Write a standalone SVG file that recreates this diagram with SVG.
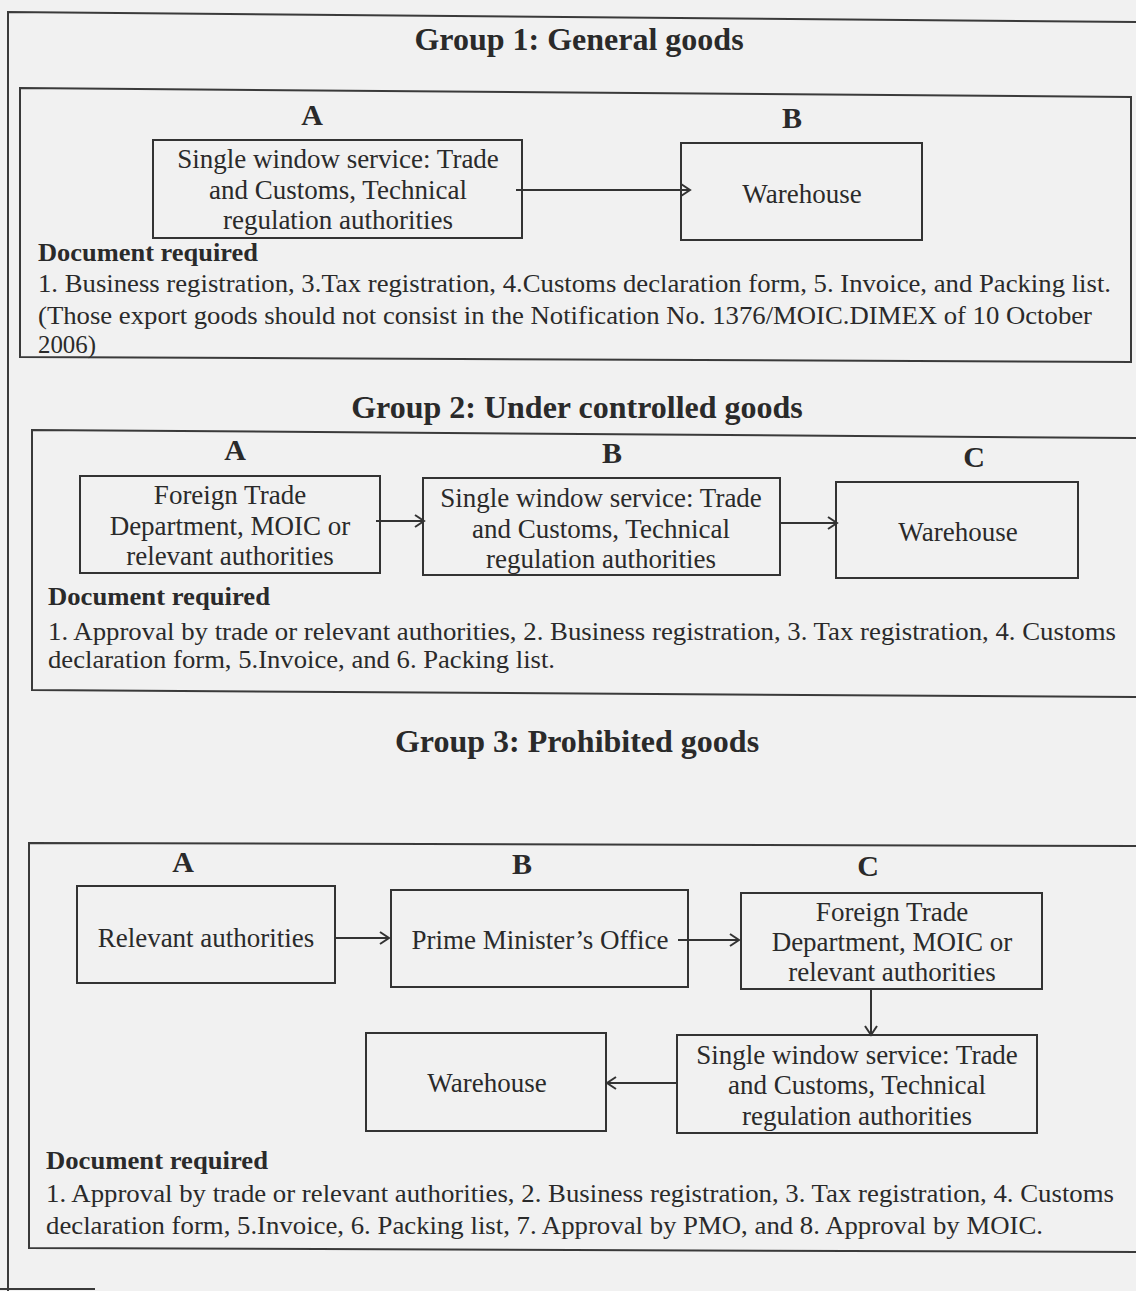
<svg xmlns="http://www.w3.org/2000/svg" width="1136" height="1291" viewBox="0 0 1136 1291">
<defs>
<marker id="ah" markerWidth="14" markerHeight="14" refX="12" refY="7" orient="auto" markerUnits="userSpaceOnUse">
<path d="M3,1 L12,7 L3,13" fill="none" stroke="#333" stroke-width="2"/>
</marker>
<style>
.frame{fill:none;stroke:#3a3a3a;stroke-width:2}
.box{fill:none;stroke:#333;stroke-width:2}
.t{font-family:"Liberation Serif","Times New Roman",serif;font-size:26px;fill:#2a2a2a}
.s{font-size:25px}
.bx{font-family:"Liberation Serif","Times New Roman",serif;font-size:27px;fill:#2a2a2a;text-anchor:middle}
.title{font-family:"Liberation Serif","Times New Roman",serif;font-size:32px;font-weight:bold;fill:#2a2a2a;text-anchor:middle}
.lab{font-family:"Liberation Serif","Times New Roman",serif;font-size:30px;font-weight:bold;fill:#2a2a2a;text-anchor:middle}
.dr{font-family:"Liberation Serif","Times New Roman",serif;font-size:26px;font-weight:bold;fill:#2a2a2a}
.conn{fill:none;stroke:#333;stroke-width:2;marker-end:url(#ah)}
</style>
</defs>
<rect width="1136" height="1291" fill="#f1f1f1"/>
<polyline class="frame" points="8,1291 8,12 1136,22"/>
<line class="frame" x1="0" y1="1289" x2="95" y2="1289"/>

<g id="group1">
<text class="title" x="579" y="50">Group 1: General goods</text>
<polygon class="frame" points="20,88 1131,97 1131,362 20,357"/>
<text class="lab" x="312" y="125">A</text>
<text class="lab" x="792" y="128">B</text>
<text class="dr" x="38" y="261" textLength="220" lengthAdjust="spacingAndGlyphs">Document required</text>
<text class="t" x="38" y="292" textLength="1073" lengthAdjust="spacingAndGlyphs">1. Business registration, 3.Tax registration, 4.Customs declaration form, 5. Invoice, and Packing list.</text>
<text class="t s" x="38" y="324" textLength="1054" lengthAdjust="spacingAndGlyphs">(Those export goods should not consist in the Notification No. 1376/MOIC.DIMEX of 10 October</text>
<text class="t s" x="38" y="353" textLength="58" lengthAdjust="spacingAndGlyphs">2006)</text>
</g>
<g id="g1A">
<rect class="box" x="153" y="140" width="369" height="98"/>
<text class="bx" x="338" y="168">Single window service: Trade</text>
<text class="bx" x="338" y="199">and Customs, Technical</text>
<text class="bx" x="338" y="229">regulation authorities</text>
</g>
<g id="g1B">
<rect class="box" x="681" y="143" width="241" height="97"/>
<text class="bx" x="802" y="203">Warehouse</text>
</g>

<g id="group2">
<text class="title" x="577" y="418">Group 2: Under controlled goods</text>
<polyline class="frame" points="1136,438 32,430 32,690 1136,697"/>
<text class="lab" x="235" y="460">A</text>
<text class="lab" x="612" y="463">B</text>
<text class="lab" x="974" y="467">C</text>
<text class="dr" x="48" y="605" textLength="222" lengthAdjust="spacingAndGlyphs">Document required</text>
<text class="t" x="48" y="640" textLength="1068" lengthAdjust="spacingAndGlyphs">1. Approval by trade or relevant authorities, 2. Business registration, 3. Tax registration, 4. Customs</text>
<text class="t" x="48" y="668" textLength="507" lengthAdjust="spacingAndGlyphs">declaration form, 5.Invoice, and 6. Packing list.</text>
</g>
<g id="g2A">
<rect class="box" x="80" y="476" width="300" height="97"/>
<text class="bx" x="230" y="504">Foreign Trade</text>
<text class="bx" x="230" y="535">Department, MOIC or</text>
<text class="bx" x="230" y="565">relevant authorities</text>
</g>
<g id="g2B">
<rect class="box" x="423" y="478" width="357" height="97"/>
<text class="bx" x="601" y="507">Single window service: Trade</text>
<text class="bx" x="601" y="538">and Customs, Technical</text>
<text class="bx" x="601" y="568">regulation authorities</text>
</g>
<g id="g2C">
<rect class="box" x="836" y="482" width="242" height="96"/>
<text class="bx" x="958" y="541">Warehouse</text>
</g>

<g id="group3">
<text class="title" x="577" y="752">Group 3: Prohibited goods</text>
<polyline class="frame" points="1136,846 29,843 29,1248 1136,1252"/>
<text class="lab" x="183" y="872">A</text>
<text class="lab" x="522" y="874">B</text>
<text class="lab" x="868" y="876">C</text>
<text class="dr" x="46" y="1169" textLength="222" lengthAdjust="spacingAndGlyphs">Document required</text>
<text class="t" x="46" y="1202" textLength="1068" lengthAdjust="spacingAndGlyphs">1. Approval by trade or relevant authorities, 2. Business registration, 3. Tax registration, 4. Customs</text>
<text class="t" x="46" y="1234" textLength="997" lengthAdjust="spacingAndGlyphs">declaration form, 5.Invoice, 6. Packing list, 7. Approval by PMO, and 8. Approval by MOIC.</text>
</g>
<g id="g3A">
<rect class="box" x="77" y="886" width="258" height="97"/>
<text class="bx" x="206" y="947">Relevant authorities</text>
</g>
<g id="g3B">
<rect class="box" x="391" y="890" width="297" height="97"/>
<text class="bx" x="540" y="949">Prime Minister’s Office</text>
</g>
<g id="g3C">
<rect class="box" x="741" y="893" width="301" height="96"/>
<text class="bx" x="892" y="921">Foreign Trade</text>
<text class="bx" x="892" y="951">Department, MOIC or</text>
<text class="bx" x="892" y="981">relevant authorities</text>
</g>
<g id="g3D">
<rect class="box" x="677" y="1035" width="360" height="98"/>
<text class="bx" x="857" y="1064">Single window service: Trade</text>
<text class="bx" x="857" y="1094">and Customs, Technical</text>
<text class="bx" x="857" y="1125">regulation authorities</text>
</g>
<g id="g3E">
<rect class="box" x="366" y="1033" width="240" height="98"/>
<text class="bx" x="487" y="1092">Warehouse</text>
</g>

<g id="connectors">
<line class="conn" x1="516" y1="190" x2="690" y2="190"/>
<line class="conn" x1="376" y1="521" x2="424" y2="521"/>
<line class="conn" x1="780" y1="523" x2="837" y2="523"/>
<line class="conn" x1="335" y1="938" x2="389" y2="938"/>
<line class="conn" x1="678" y1="940" x2="739" y2="940"/>
<line class="conn" x1="871" y1="989" x2="871" y2="1035"/>
<line class="conn" x1="677" y1="1083" x2="607" y2="1083"/>
</g>
</svg>
